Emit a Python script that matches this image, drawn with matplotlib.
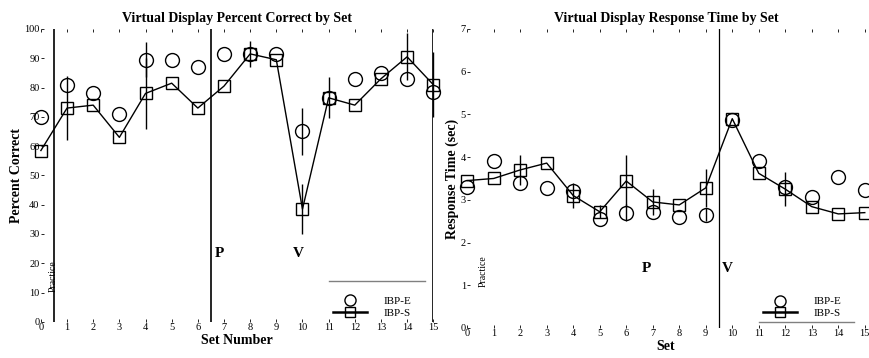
import matplotlib
matplotlib.use('Agg')
import matplotlib.pyplot as plt
from matplotlib.lines import Line2D

plt.rcParams['font.family'] = ['Liberation Serif', 'DejaVu Serif']

sets = list(range(16))

# percent correct
pc_e = [70, 81, 78, 71, 89.5, 89.5, 87, 91.5, 91.5, 91.5, 65, 76.5, 83, 85, 83, 78.5]
pc_s = [58.5, 73, 74, 63, 78, 81.5, 73, 80.5, 91.5, 89.5, 38.5, 76.5, 74, 83, 90.5, 81]
pc_e_err = [0, 0, 0, 0, 6, 0, 0, 0, 0, 0, 8, 0, 0, 0, 0, 0]
pc_s_err = [0, 11, 0, 0, 12, 0, 0, 0, 4.5, 0, 8.5, 7, 0, 0, 8, 11]

# response time
rt_e = [3.3, 3.9, 3.4, 3.28, 3.2, 2.55, 2.7, 2.72, 2.6, 2.65, 4.87, 3.9, 3.3, 3.07, 3.54, 3.23]
rt_s = [3.45, 3.5, 3.7, 3.86, 3.1, 2.72, 3.44, 2.95, 2.88, 3.28, 4.9, 3.62, 3.25, 2.84, 2.67, 2.7]
rt_e_err = [0, 0, 0, 0, 0, 0, 0.2, 0, 0, 0.15, 0, 0, 0, 0, 0, 0]
rt_s_err = [0, 0, 0.35, 0, 0.3, 0.15, 0.6, 0.3, 0, 0.45, 0, 0, 0.4, 0, 0, 0]

fig = plt.figure(figsize=(8.7, 3.58), dpi=100)
ax1 = fig.add_axes([0.047, 0.101, 0.451, 0.818])
ax2 = fig.add_axes([0.537, 0.084, 0.457, 0.835])


def draw(ax, e, s, e_err, s_err):
    for c in ax.errorbar(sets, e, yerr=e_err, fmt='o', mfc='none', mec='black', ms=10,
                         mew=1, ecolor='black', elinewidth=1, capsize=0, zorder=3).lines:
        for a in (c if isinstance(c, tuple) else [c]):
            a.set_clip_on(False)
    for c in ax.errorbar(sets, s, yerr=s_err, fmt='s-', mfc='none', mec='black', ms=9,
                         mew=1, color='black', lw=1, ecolor='black', elinewidth=1,
                         capsize=0, zorder=3).lines:
        for a in (c if isinstance(c, tuple) else [c]):
            a.set_clip_on(False)
    for sp in ax.spines.values():
        sp.set_visible(False)
    ax.set_xlim(0, 15)
    ax.set_xticks(sets)
    ax.tick_params(axis='both', labelsize=7.5, length=2, width=0.6,
                   direction='in', pad=1)
    ax.tick_params(axis='x', top=True)


# left panel
draw(ax1, pc_e, pc_s, pc_e_err, pc_s_err)
ax1.set_ylim(0, 100)
ax1.set_yticks(range(0, 101, 10))
ax1.axvline(0.5, color='black', lw=1.2)
ax1.axvline(6.5, color='black', lw=1.2)
ax1.axvline(15, color='black', lw=1.2)
ax1.set_title('Virtual Display Percent Correct by Set', fontsize=10,
              fontweight='bold', pad=5)
ax1.set_xlabel('Set Number', fontsize=10, fontweight='bold', labelpad=1)
ax1.set_ylabel('Percent Correct', fontsize=10, fontweight='bold', labelpad=1)
ax1.text(6.65, 22, 'P', fontsize=11, fontweight='bold')
ax1.text(9.65, 22, 'V', fontsize=11, fontweight='bold')
ax1.text(0.28, 11, 'Practice', fontsize=7, rotation=90)

# right panel
draw(ax2, rt_e, rt_s, rt_e_err, rt_s_err)
ax2.set_ylim(0, 7)
ax2.set_yticks(range(0, 8))
ax2.axvline(9.5, color='black', lw=0.9)
ax2.set_title('Virtual Display Response Time by Set', fontsize=10,
              fontweight='bold', pad=5)
ax2.set_xlabel('Set', fontsize=10, fontweight='bold', labelpad=1)
ax2.set_ylabel('Response Time (sec)', fontsize=10, fontweight='bold', labelpad=1)
ax2.text(6.6, 1.3, 'P', fontsize=11, fontweight='bold')
ax2.text(9.6, 1.3, 'V', fontsize=11, fontweight='bold')
ax2.text(0.42, 1.0, 'Practice', fontsize=7, rotation=90)

handles = [
    Line2D([], [], marker='o', ls='none', mfc='none', mec='black', ms=8),
    Line2D([], [], marker='s', ls='-', lw=1.8, mfc='none', mec='black',
           color='black', ms=7),
]
for ax, loc in [(ax1, (0.72, -0.02)), (ax2, (0.72, 0.0))]:
    leg = ax.legend(handles, ['IBP-E', 'IBP-S'], loc='lower left',
                    bbox_to_anchor=loc, frameon=False, fontsize=8,
                    handlelength=3, labelspacing=0.15, handletextpad=1.5)

ax1.plot([11, 14.7], [14, 14], color='gray', lw=1)
ax2.plot([11, 14.6], [0.15, 0.15], color='gray', lw=1)

plt.savefig('out.png', dpi=100)
